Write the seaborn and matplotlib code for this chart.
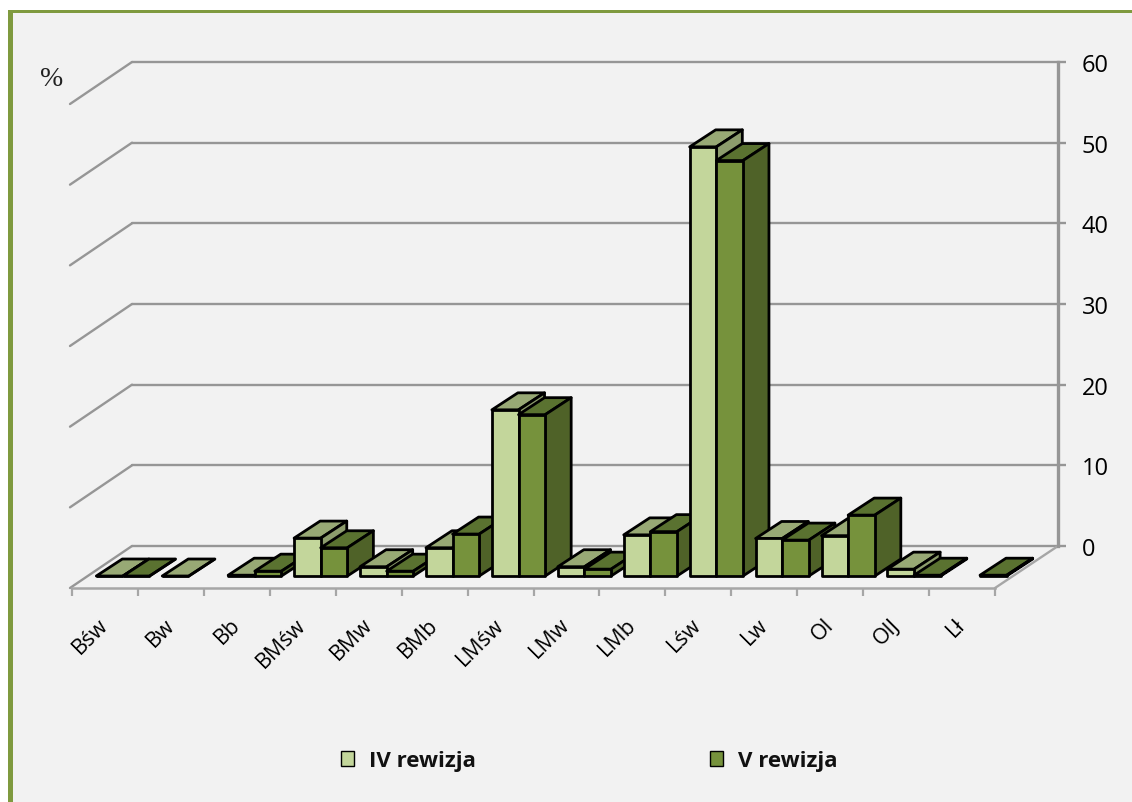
import numpy as np
import pandas as pd
import matplotlib
matplotlib.use("Agg")
import matplotlib.pyplot as plt
from matplotlib.patches import Rectangle, Polygon
import seaborn as sns

# Data
categories = ["Bśw", "Bw", "Bb", "BMśw", "BMw", "BMb", "LMśw", "LMw", "LMb", "Lśw", "Lw", "Ol", "OlJ", "Lł"]
rewizja_iv = [0, 0, 0.1, 4.7, 1.15, 3.5, 20.6, 1.15, 5.1, 53.2, 4.65, 5.0, 0.85, np.nan]
rewizja_v = [0, np.nan, 0.6, 3.5, 0.6, 5.2, 20.0, 0.85, 5.5, 51.5, 4.45, 7.55, 0.1, 0.1]
series_names = ["IV rewizja", "V rewizja"]
wall_ticks = [0, 10, 20, 30, 40, 50, 60]

front_colors = ["#C3D69B", "#76923C"]
top_colors = ["#98A975", "#5A7230"]
side_colors = ["#8C9C6C", "#4F6228"]
grey = "#969696"

W, H = 1132, 803

sns.set_theme(style="white")
plt.rcParams["font.family"] = ["Open Sans", "DejaVu Sans"]

df = pd.DataFrame({
    "cat": categories * 2,
    "rev": [series_names[0]] * 14 + [series_names[1]] * 14,
    "val": rewizja_iv + rewizja_v,
})

fig = plt.figure(figsize=(W / 100, H / 100), dpi=100, facecolor="white")


def px_axes(left, right, bottom, top):
    # axes placed by pixel box (y counted from the top of the image)
    return fig.add_axes([left / W, 1 - bottom / H, (right - left) / W, (bottom - top) / H])


# Panel with green band on left and top
fig.add_artist(Rectangle((8 / W, 0), 1, 1 - 11 / H, transform=fig.transFigure, fc="#7F9A3F", ec="none", zorder=-2))
fig.add_artist(Rectangle((12.5 / W, 0), 1, 1 - 13.5 / H, transform=fig.transFigure, fc="#F2F2F2", ec="none", zorder=-1))

# -----------------------------
# Back wall with the value axis
# -----------------------------
wall = px_axes(132, 1058, 547, 63)
wall.patch.set_visible(False)
wall.set_xlim(0, 1)
wall.set_ylim(0, 60)
wall.set_xticks([])
wall.set_yticks(wall_ticks)
wall.yaxis.tick_right()
wall.tick_params(axis="y", right=True, length=6, width=1.7, color=grey, labelsize=17, pad=11, labelcolor="black")
wall.grid(axis="y", color=grey, lw=1.7)
for line in wall.get_ygridlines():
    line.set_clip_on(False)
for s in ["left", "top", "bottom"]:
    wall.spines[s].set_visible(False)
wall.spines["right"].set_color(grey)
wall.spines["right"].set_linewidth(2.4)

# slanted side wall lines
dy_floor = 42 / (484 / 60)
for v in wall_ticks:
    wall.plot([0, -62 / 926], [v, v - dy_floor], color=grey, lw=1.7, clip_on=False,
              transform=wall.get_yaxis_transform())
wall.plot([1, 1 - 63 / 926], [0, -dy_floor], color="#A6A6A6", lw=1.7, clip_on=False,
          transform=wall.get_yaxis_transform())

# -----------------------------
# Front edge of the floor
# -----------------------------
floor = px_axes(72, 995, 589, 560)
floor.patch.set_visible(False)
floor.set_xlim(-0.5, 13.5)
floor.set_yticks([])
for s in ["left", "right", "top"]:
    floor.spines[s].set_visible(False)
floor.spines["bottom"].set_color("#A6A6A6")
floor.spines["bottom"].set_linewidth(1.8)
floor.set_xticks(np.arange(-0.5, 14, 1))
floor.set_xticklabels([])
floor.tick_params(axis="x", which="major", bottom=True, length=5.5, width=1.6, color="#A6A6A6")
floor.set_xticks(np.arange(14) - 0.11, minor=True)
floor.set_xticklabels(categories, minor=True, rotation=45, ha="right", rotation_mode="anchor",
                      fontsize=15.5, color="black")
floor.tick_params(axis="x", which="minor", bottom=False, length=0, pad=18.5)

# -----------------------------
# Bars (front faces by seaborn, depth faces from the same bars)
# -----------------------------
ax = px_axes(90, 1013, 577, 93)
ax.patch.set_visible(False)
sns.barplot(data=df, x="cat", y="val", hue="rev", order=categories, hue_order=series_names,
            palette=front_colors, width=0.808, gap=0, saturation=1,
            edgecolor="black", linewidth=2, ax=ax)
ax.set_xlim(-0.5, 13.5)
ax.set_ylim(0, 60)
ax.axis("off")

depth_x = 26 / (923 / 14)
depth_y = 17 / (484 / 60)

handles, labels = ax.get_legend_handles_labels()
ax.get_legend().remove()

z = 5
bars = []
for i, cont in enumerate(ax.containers):
    for p in cont:
        if p.get_height() == p.get_height():
            bars.append((p.get_x(), i, p))
for x0, i, p in sorted(bars, key=lambda b: (round(b[0] * 100), b[1])):
    w = p.get_width()
    h = p.get_height()
    top = Polygon([(x0, h), (x0 + depth_x, h + depth_y), (x0 + w + depth_x, h + depth_y), (x0 + w, h)],
                  fc=top_colors[i], ec="black", lw=2, joinstyle="round", clip_on=False, zorder=z)
    side = Polygon([(x0 + w, 0), (x0 + w + depth_x, depth_y), (x0 + w + depth_x, h + depth_y), (x0 + w, h)],
                   fc=side_colors[i], ec="black", lw=2, joinstyle="round", clip_on=False, zorder=z)
    ax.add_patch(top)
    ax.add_patch(side)
    p.set_zorder(z + 0.5)
    p.set_clip_on(False)
    p.set_joinstyle("round")
    z += 1

# -----------------------------
# Legend and % label
# -----------------------------
leg = fig.legend(handles, labels, ncol=2, frameon=False, loc="center left", bbox_to_anchor=(341 / W, 1 - 762 / H),
                 borderpad=0, borderaxespad=0, handlelength=0.6, handleheight=0.65, handletextpad=0.68,
                 columnspacing=10.5, prop={"family": "Open Sans", "weight": "bold", "size": 16},
                 labelcolor="#111111")
for h in leg.legend_handles:
    h.set_linewidth(1)

fig.text(52 / W, 1 - 80 / H, "%", family="Liberation Serif", fontsize=20, color="#222222", ha="center", va="center")

fig.savefig("out.png", dpi=100, facecolor=fig.get_facecolor())
